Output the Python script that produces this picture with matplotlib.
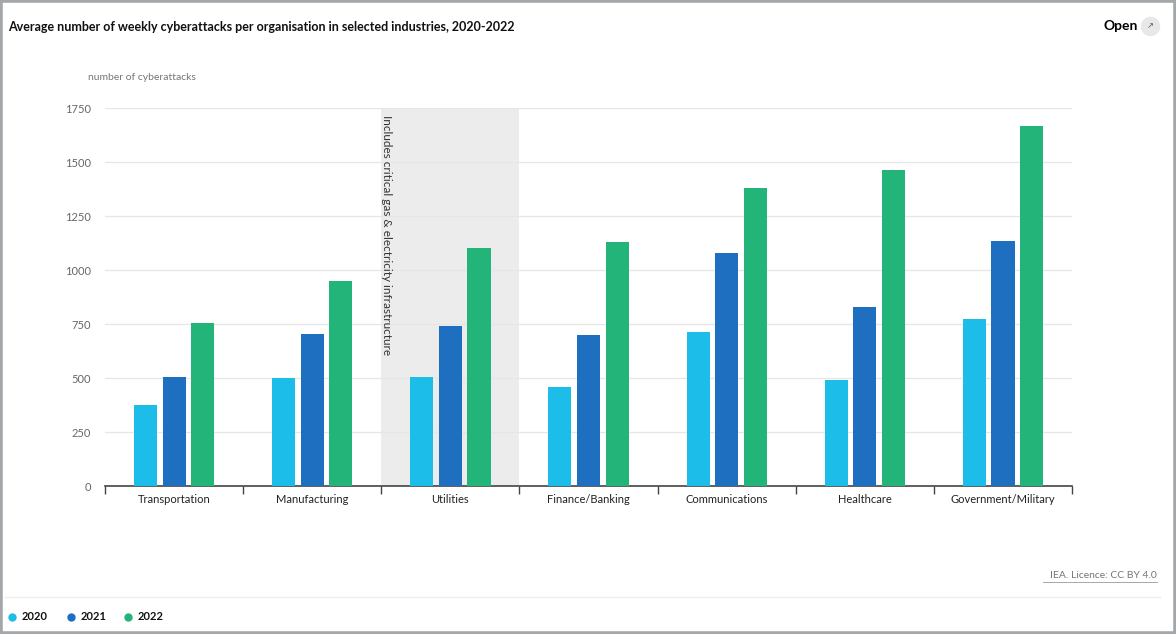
#python3
import numpy as np
import matplotlib.pyplot as plt
from matplotlib.patches import Rectangle

plt.rcParams['font.family'] = ['Lato', 'DejaVu Sans']

#data
industries = ['Transportation', 'Manufacturing', 'Utilities', 'Finance/Banking',
              'Communications', 'Healthcare', 'Government/Military']
years = ['2020', '2021', '2022']
attacks_2020 = [375, 500, 505, 460, 715, 490, 775]
attacks_2021 = [505, 705, 740, 700, 1080, 830, 1135]
attacks_2022 = [755, 950, 1100, 1130, 1380, 1465, 1665]
yticks = [0, 250, 500, 750, 1000, 1250, 1500, 1750]

colors = ['#1cbde8', '#1f6fc1', '#23b47a']
series = [attacks_2020, attacks_2021, attacks_2022]

W, H = 1176, 634
def fx(px): return px / W
def fy(py): return 1 - py / H

fig = plt.figure(figsize=(11.76, 6.34), dpi=100)
fig.patch.set_facecolor('white')
ax = fig.add_axes([0.0893, 0.2334, 0.8223, 0.5962])

x = np.arange(len(industries))
step = 0.207
width = 0.167

#shaded utilities column
ax.axvspan(1.5, 2.5, color='#ececec', zorder=0, lw=0)
ax.text(2.5 - 0.96, 1720, 'Includes critical gas & electricity infrastructure',
        rotation=-90, ha='center', va='top', fontsize=8.5, color='#333333')

for i, vals in enumerate(series):
    ax.bar(x + (i - 1) * step, vals, width, color=colors[i], zorder=3, label=years[i])

ax.set_xlim(-0.5, len(industries) - 0.5)
ax.set_ylim(0, 1750)
ax.set_yticks(yticks)
ax.set_yticklabels([str(v) for v in yticks], fontsize=8, color='#666666')
ax.yaxis.grid(True, color='#e6e6e6', lw=0.9, zorder=1)
ax.set_axisbelow(True)
ax.tick_params(axis='y', length=0, pad=10)

ax.set_xticks(x)
ax.set_xticklabels(industries, fontsize=8, color='#222222')
ax.tick_params(axis='x', length=0, pad=6)
ax.set_xticks(np.arange(-0.5, len(industries)), minor=True)
ax.tick_params(axis='x', which='minor', length=6, width=1, color='#444444', direction='out')

for s in ['top', 'right', 'left']:
    ax.spines[s].set_visible(False)
ax.spines['bottom'].set_color('#444444')
ax.spines['bottom'].set_linewidth(1.2)

fig.text(fx(88), fy(77), 'number of cyberattacks', fontsize=7.5, color='#777777',
         ha='left', va='center')

#header, footer
fig.text(fx(8), fy(27), 'Average number of weekly cyberattacks per organisation in selected industries, 2020-2022',
         fontsize=9, fontweight='bold', ha='left', va='center', color='#111111')
fig.text(fx(1138), fy(26), 'Open', fontsize=10, fontweight='bold', ha='right', va='center')
fig.add_artist(plt.Line2D([fx(1150)], [fy(26)], marker='o', markersize=13, color='#e8e8e8',
                          transform=fig.transFigure))
fig.text(fx(1150), fy(26), '\u2197', fontsize=6, ha='center', va='center', color='#555555',
         family=['DejaVu Sans'])
fig.text(fx(1157), fy(576), 'IEA. Licence: CC BY 4.0', fontsize=7.5, ha='right',
         va='center', color='#777777')
fig.add_artist(plt.Line2D([fx(1043), fx(1157)], [fy(582), fy(582)],
                          color='#999999', lw=0.6, transform=fig.transFigure))
fig.add_artist(plt.Line2D([fx(5), fx(1160)], [fy(597), fy(597)],
                          color='#eeeeee', lw=1, transform=fig.transFigure))

#legend
for i, (xd, xl) in enumerate([(12, 22), (71, 81), (128, 138)]):
    fig.add_artist(plt.Line2D([fx(xd)], [fy(617)], marker='o', markersize=5, color=colors[i],
                              lw=0, transform=fig.transFigure))
    fig.text(fx(xl), fy(617), years[i], fontsize=8, fontweight='bold',
             ha='left', va='center', color='#111111')

#grey frame around the screenshot
fig.patches.append(Rectangle((0, 0), 1, 1, transform=fig.transFigure, fill=False,
                             edgecolor='#a3a7a9', lw=4))

plt.savefig('out.png', dpi=100)
